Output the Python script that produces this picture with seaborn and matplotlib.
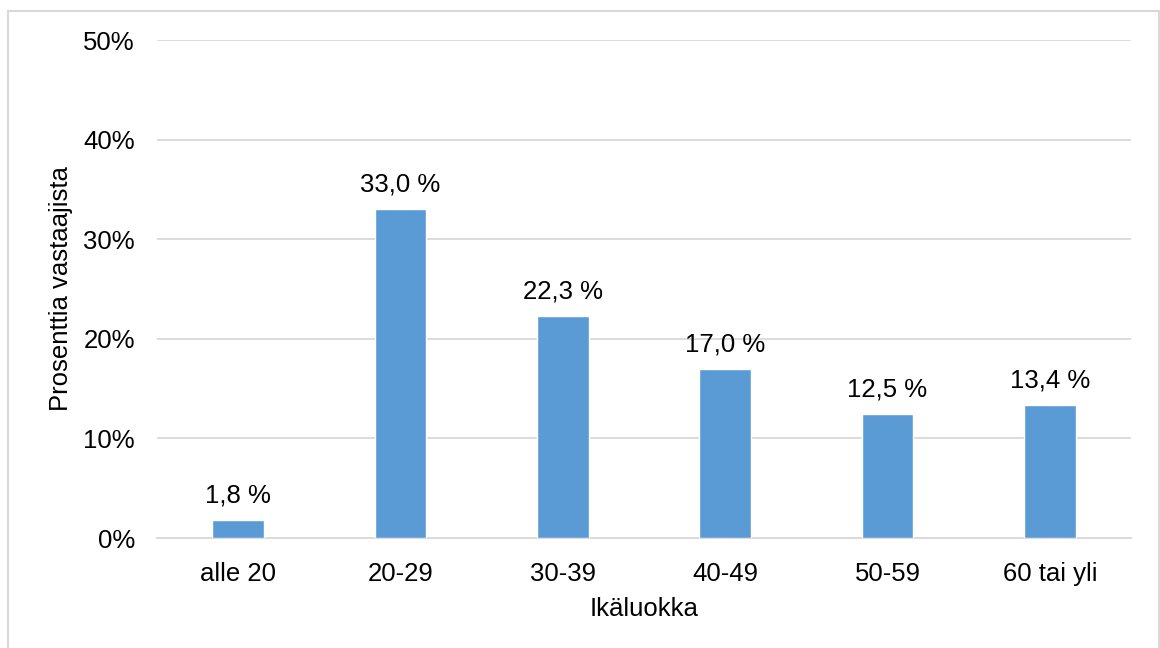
import matplotlib
matplotlib.use("Agg")
import matplotlib.pyplot as plt
from matplotlib.patches import Rectangle
import seaborn as sns
import pandas as pd

# Age groups and share of respondents (%)
categories = ["alle 20", "20-29", "30-39", "40-49", "50-59", "60 tai yli"]
values = [1.8, 33.0, 22.3, 17.0, 12.5, 13.4]
y_ticks = [0, 10, 20, 30, 40, 50]
y_tick_labels = ["0%", "10%", "20%", "30%", "40%", "50%"]

sns.set_theme(style="white")
plt.rcParams["font.family"] = ["Liberation Sans", "DejaVu Sans"]

df = pd.DataFrame({"Ikäluokka": categories, "Osuus": values})

fig = plt.figure(figsize=(11.6, 6.48), dpi=100)
ax = fig.add_axes([157 / 1160, 1 - 538 / 648, (1131 - 157) / 1160, (538 - 40) / 648])

bar_color = "#5b9bd5"
sns.barplot(data=df, x="Ikäluokka", y="Osuus", color=bar_color, width=0.32,
            saturation=1, ax=ax, zorder=3)

ax.set_xlim(-0.5, len(categories) - 0.5)
ax.set_ylim(0, 50)
ax.set_yticks(y_ticks)
ax.set_yticklabels(y_tick_labels)
ax.yaxis.grid(True, color="#d9d9d9", linewidth=1.3, zorder=0)
ax.set_axisbelow(True)

for side in ["top", "right", "left"]:
    ax.spines[side].set_visible(False)
ax.spines["bottom"].set_color("#d9d9d9")
ax.spines["bottom"].set_linewidth(1.3)

ax.tick_params(axis="both", length=0, labelsize=18.5, colors="black")
ax.tick_params(axis="x", pad=17)
ax.tick_params(axis="y", pad=16)

ax.set_xlabel("Ikäluokka", fontsize=18.5, labelpad=8, color="black")
ax.set_ylabel("Prosenttia vastaajista", fontsize=18.5, labelpad=7, color="black")

for i, v in enumerate(values):
    ax.annotate(f"{v:.1f} %".replace(".", ","), xy=(i, v), xytext=(0, 9),
                textcoords="offset points", ha="center", va="bottom",
                fontsize=18.5, color="black")

# Light frame around the chart area
fig.patches.append(Rectangle((8 / 1160, -0.1), (1159 - 8) / 1160, 1.1 - 11 / 648,
                             transform=fig.transFigure, fill=False,
                             edgecolor="#d9d9d9", linewidth=1.5))

fig.savefig("out.png", dpi=100, facecolor="white")
